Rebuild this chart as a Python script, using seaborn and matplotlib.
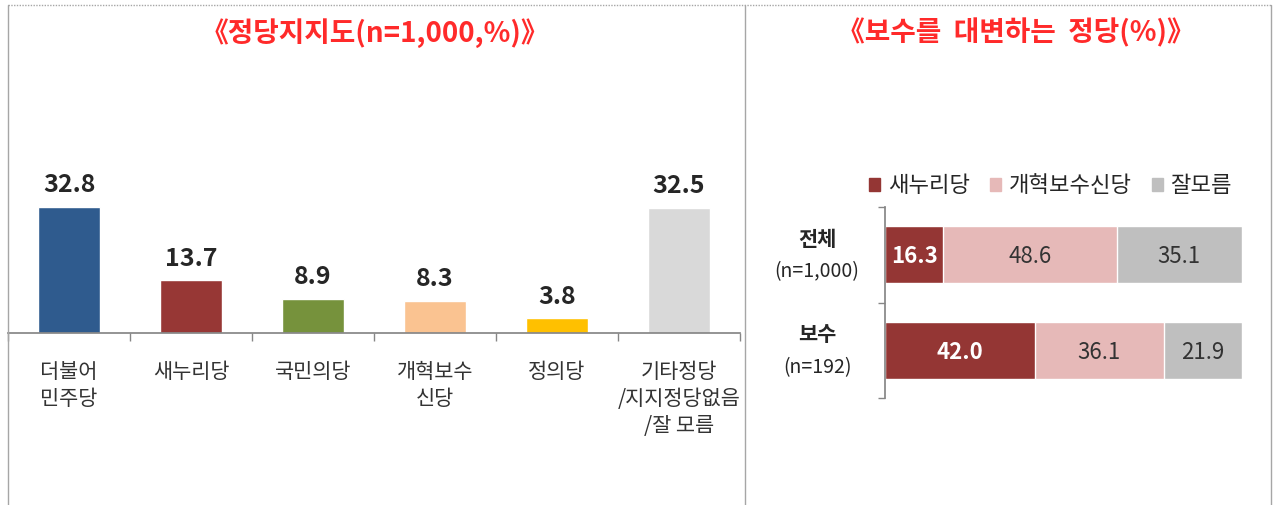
import numpy as np
import pandas as pd
import matplotlib
matplotlib.use("Agg")
import matplotlib.pyplot as plt
import seaborn as sns
from matplotlib.lines import Line2D
from matplotlib.ticker import FixedLocator, NullLocator

# ---- data ----
parties = ["더불어\n민주당", "새누리당", "국민의당", "개혁보수\n신당", "정의당",
           "기타정당\n/지지정당없음\n/잘 모름"]
support = [32.8, 13.7, 8.9, 8.3, 3.8, 32.5]
party_colors = ["#2F5B8E", "#973735", "#76923C", "#FAC391", "#FFC000", "#D9D9D9"]

groups = ["전체", "보수"]
group_n = ["(n=1,000)", "(n=192)"]
saenuri = [16.3, 42.0]
reform = [48.6, 36.1]
dunno = [35.1, 21.9]
stack_names = ["새누리당", "개혁보수신당", "잘모름"]
stack_colors = ["#943634", "#E6B9B8", "#BFBFBF"]

sns.set_theme(style="white")
plt.rcParams["font.family"] = ["Noto Sans CJK KR", "DejaVu Sans"]

W, H = 1275, 505
fig = plt.figure(figsize=(W / 100, H / 100), dpi=100)


def px_axes(x0, y0, x1, y1):
    # pixel box (top-left origin) -> figure axes
    return fig.add_axes([x0 / W, 1 - y1 / H, (x1 - x0) / W, (y1 - y0) / H])


# ---- panel frame ----
frame = dict(color="#A6A6A6", lw=1.0)
fig.add_artist(Line2D([8 / W, 1271 / W], [1 - 5 / H, 1 - 5 / H], ls=(0, (1, 1)), **frame))
for xp in (8, 745, 1271):
    fig.add_artist(Line2D([xp / W, xp / W], [0, 1 - 5 / H], **frame))

title_kw = dict(color="#FF2A2A", fontsize=20, fontweight="bold", ha="center", va="center")
fig.text(375 / W, 1 - 33 / H, "《정당지지도(n=1,000,%)》", **title_kw)
fig.text(1016 / W, 1 - 33 / H, "《보수를  대변하는  정당(%)》", **title_kw)

# ---- left: party support ----
ax1 = px_axes(8, 333 - 40 * 3.84, 740, 333)
df1 = pd.DataFrame({"party": parties, "value": support})
sns.barplot(data=df1, x="party", y="value", hue="party", palette=party_colors,
            width=0.51, legend=False, saturation=1, ax=ax1)
ax1.set_ylim(0, 40)
ax1.set_xlim(-0.5, 5.5)
for c in ax1.containers:
    ax1.bar_label(c, fmt="%.1f", padding=7, fontsize=18, fontweight="bold", color="#262626")
ax1.set_xlabel("")
ax1.set_ylabel("")
ax1.set_yticks([])
ax1.xaxis.set_minor_locator(FixedLocator(np.arange(-0.5, 6, 1)))
ax1.tick_params(axis="x", which="major", length=0, pad=20, labelsize=15, labelcolor="#333333")
ax1.tick_params(axis="x", which="minor", length=6, direction="out", color="#868686", bottom=True)
for lab in ax1.get_xticklabels():
    lab.set_linespacing(1.3)
    lab.set_va("top")
for s in ["left", "right", "top"]:
    ax1.spines[s].set_visible(False)
ax1.spines["bottom"].set_color("#868686")

# ---- right: stacked horizontal bars ----
ax2 = px_axes(885, 207, 1242, 398)
df2 = pd.DataFrame({"group": groups, "s": saenuri, "r": reform, "d": dunno})
df2["sr"] = df2["s"] + df2["r"]
df2["all"] = df2["sr"] + df2["d"]
for col, colr in zip(["all", "sr", "s"], stack_colors[::-1]):
    sns.barplot(data=df2, y="group", x=col, color=colr, orient="h", width=0.6,
                saturation=1, ax=ax2)
ax2.set_xlim(0, 100)
ax2.set_ylim(1.5, -0.5)
ax2.set_xticks([])
ax2.set_xlabel("")
ax2.set_ylabel("")
ax2.set_yticklabels([])
ax2.yaxis.set_major_locator(NullLocator())
ax2.yaxis.set_minor_locator(FixedLocator([-0.5, 0.5, 1.5]))
ax2.tick_params(axis="y", which="minor", length=5, direction="out", color="#868686", left=True)
for s in ["right", "top", "bottom"]:
    ax2.spines[s].set_visible(False)
ax2.spines["left"].set_color("#868686")

for i in range(len(groups)):
    parts = [saenuri[i], reform[i], dunno[i]]
    left = 0
    for j, v in enumerate(parts):
        colr = "white" if j == 0 else "#333333"
        ax2.text(left + v / 2, i + 0.02, f"{v:.1f}", ha="center", va="center",
                 fontsize=16, fontweight="bold" if j == 0 else "normal", color=colr)
        left += v
    ax2.text(-0.19, i - 0.16, groups[i], transform=ax2.get_yaxis_transform(),
             ha="center", va="center", fontsize=15, fontweight="bold", color="#262626")
    ax2.text(-0.19, i + 0.18, group_n[i], transform=ax2.get_yaxis_transform(),
             ha="center", va="center", fontsize=14, color="#262626")

handles = [plt.Rectangle((0, 0), 1, 1, color=c) for c in stack_colors]
fig.legend(handles, stack_names, ncol=3, frameon=False, loc="center right",
           bbox_to_anchor=(1252 / W, 1 - 186 / H), fontsize=16,
           handlelength=0.5, handleheight=0.5, handletextpad=0.35, columnspacing=0.9,
           labelcolor="#262626")

fig.savefig("out.png", dpi=100)
